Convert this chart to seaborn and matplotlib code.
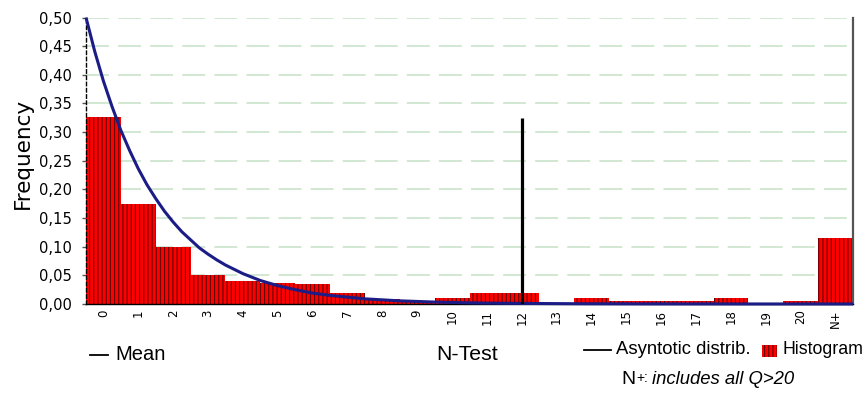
import numpy as np
import pandas as pd
import matplotlib
matplotlib.use("Agg")
import matplotlib.pyplot as plt
import seaborn as sns
from matplotlib.lines import Line2D
from matplotlib.patches import Rectangle
from matplotlib.ticker import FuncFormatter, MultipleLocator

# ---- data ----
categories = [str(i) for i in range(21)] + ["N+"]
frequencies = [0.326, 0.175, 0.100, 0.050, 0.041, 0.036, 0.035, 0.019, 0.008, 0.003,
               0.010, 0.020, 0.020, 0.002, 0.010, 0.005, 0.005, 0.005, 0.010, 0.000,
               0.005, 0.116]
# asymptotic distribution curve (x measured in classes from left edge of class 0)
curve_t = [0.0, 0.25, 0.5, 0.75, 1.0, 1.25, 1.5, 1.75, 2.0, 2.25, 2.5, 2.75, 3.0,
           3.25, 3.5, 3.75, 4.0, 4.5, 5.0, 5.5, 6.0, 6.5, 7.0, 7.5, 8.0, 9.0, 10.0,
           11.0, 12.0, 14.0, 16.0, 18.0, 22.0]
curve_y = [0.500, 0.441, 0.389, 0.344, 0.303, 0.268, 0.236, 0.208, 0.184, 0.162,
           0.143, 0.126, 0.112, 0.098, 0.087, 0.077, 0.068, 0.053, 0.041, 0.032,
           0.025, 0.019, 0.015, 0.012, 0.009, 0.0055, 0.0034, 0.002, 0.0012, 0.0005,
           0.0002, 0.0001, 0.0]
ntest_category = "12"
ntest_height = 0.325

W, H = 868, 394
plt.rcParams["font.family"] = ["Liberation Sans", "DejaVu Sans"]
plt.rcParams["hatch.linewidth"] = 0.75

fig = plt.figure(figsize=(W / 100, H / 100), dpi=100)
ax = fig.add_axes([86 / W, 1 - 304 / H, (853 - 86) / W, (304 - 17.5) / H])

df = pd.DataFrame({"cls": categories, "freq": frequencies})
sns.barplot(data=df, x="cls", y="freq", color="#ff0000", saturation=1, width=1.0,
            ax=ax, zorder=2)
for p in ax.patches:
    p.set_edgecolor("#5a0000")
    p.set_linewidth(0)
    p.set_hatch("||||")
    p.set_facecolor("#ff0000")

# curve
ax.plot(np.array(curve_t) - 0.5, curve_y, color="#1c1c86", lw=2.2, zorder=3,
        solid_capstyle="butt", solid_joinstyle="round", clip_on=False)

# N-Test line
xpos = categories.index(ntest_category)
ax.vlines(xpos, 0, ntest_height, color="black", lw=2.3, zorder=4)

ax.set_xlim(-0.5, len(categories) - 0.5)
ax.set_ylim(0, 0.5)
ax.yaxis.set_major_locator(MultipleLocator(0.05))
ax.yaxis.set_major_formatter(FuncFormatter(lambda v, p: f"{v:.2f}".replace(".", ",")))
ax.grid(axis="y", color="#c6e2c6", lw=1.1, linestyle=(0, (15, 6)), zorder=0)
ax.grid(axis="x", visible=False)
ax.set_axisbelow(True)

ax.spines["top"].set_visible(False)
ax.spines["left"].set_linestyle((0, (2.5, 2)))
ax.spines["left"].set_color("black")
ax.spines["left"].set_linewidth(1.0)
ax.spines["bottom"].set_color("black")
ax.spines["bottom"].set_linewidth(1.0)
ax.spines["right"].set_color("#555555")
ax.spines["right"].set_linewidth(1.6)

ax.tick_params(axis="y", length=3, width=1, color="#555555", pad=7,
               labelsize=10.6, labelfontfamily="DejaVu Sans")
ax.tick_params(axis="x", length=0, pad=4, labelrotation=90,
               labelsize=8.5, labelfontfamily="DejaVu Sans")
ax.set_xlabel("")
ax.set_ylabel("Frequency", fontsize=15.5, family="DejaVu Sans")
ax.yaxis.set_label_coords((33 - 86) / 767, (304 - 153) / 286.5)

# ---- bottom texts / legend ----
def fx(px):
    return px / W

def fy(py):
    return 1 - py / H

fig.add_artist(Line2D([fx(90), fx(108)], [fy(355), fy(355)], color="black", lw=1.3,
                      transform=fig.transFigure))
fig.text(fx(115), fy(355), "Mean", fontsize=14.5, va="center", ha="left")
fig.text(fx(436), fy(355), "N-Test", fontsize=15.3, va="center", ha="left")

fig.add_artist(Line2D([fx(584), fx(611)], [fy(350), fy(350)], color="black", lw=1.3,
                      transform=fig.transFigure))
fig.text(fx(616), fy(350), "Asyntotic distrib.", fontsize=13.3, va="center", ha="left")
fig.add_artist(Rectangle((fx(762), fy(357)), 15 / W, 12 / H, transform=fig.transFigure,
                         facecolor="#ff0000", edgecolor="#5a0000", lw=0, hatch="||||"))
fig.text(fx(782), fy(350), "Histogram", fontsize=12.8, va="center", ha="left")

fig.text(fx(621), fy(379), "N", fontsize=14, va="center", ha="left")
fig.text(fx(636), fy(378), "+:", fontsize=10, va="center", ha="left")
fig.text(fx(652), fy(379), "includes all Q>20", fontsize=13.3, style="italic",
         va="center", ha="left")

fig.savefig("out.png", dpi=100)
